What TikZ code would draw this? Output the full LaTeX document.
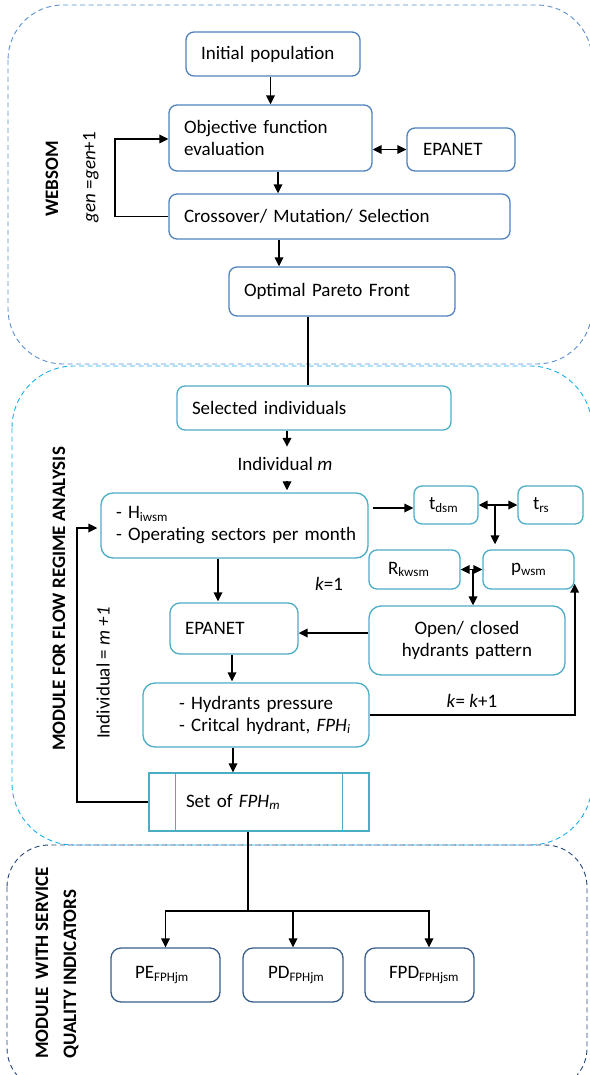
\documentclass[tikz,border=0pt]{standalone}
\usepackage{fontspec}
\setmainfont{Carlito}
\usetikzlibrary{arrows.meta}
\definecolor{cA}{RGB}{79,129,189}
\definecolor{cB}{RGB}{75,172,198}
\definecolor{cC}{RGB}{56,93,138}
\definecolor{fA}{RGB}{91,143,208}
\definecolor{fB}{RGB}{20,176,235}
\definecolor{fC}{RGB}{40,70,120}
\newcommand\sbs[1]{\raisebox{-2.5pt}{\fontsize{13}{13}\selectfont #1}}
\newcommand\pd[1]{\hspace*{#1pt}}
\begin{document}
\begin{tikzpicture}[x=1pt,y=-1pt,
  every node/.style={font=\fontsize{19}{22}\selectfont},
  bx/.style={draw, line width=1.3pt, rounded corners=8pt, inner xsep=0pt, inner ysep=0pt, align=left},
  bxc/.style={bx, align=center},
  frm/.style={dashed, dash pattern=on 5pt off 3.5pt, line width=0.9pt},
  arr/.style={line width=1.7pt, -{Triangle[length=9pt,width=8.5pt]}},
  darr/.style={line width=1.7pt, {Triangle[length=9pt,width=8.5pt]}-{Triangle[length=9pt,width=8.5pt]}},
  ln/.style={line width=1.7pt},
  bold/.style={font=\bfseries\fontsize{19}{22}\selectfont}
]
\useasboundingbox (0,0) rectangle (589,1075);
% frames
\draw[frm, fA, rounded corners=55pt] (8,5) rectangle (592,364);
\draw[frm, fB, rounded corners=62pt] (12,366) rectangle (592,845);
\draw[frm, fC, rounded corners=42pt] (7,845) rectangle (587,1090);

% ---- WEBSOM ----
\node[bx, cA, text=black, text width=174pt, minimum height=44pt] (init) at (273,54) {\pd{15}Initial population};
\node[bx, cA, text=black, text width=203pt, minimum height=66pt] (obj) at (270.5,138) {\pd{15}Objective function\\\pd{15}evaluation};
\node[bx, cA, text=black, text width=108pt, minimum height=43pt] (epa1) at (461,149.5) {\pd{16}EPANET};
\node[bx, cA, text=black, text width=341pt, minimum height=45pt] (cross) at (339.5,216.5) {\pd{15}Crossover/ Mutation/ Selection};
\node[bx, cA, text=black, text width=226pt, minimum height=49pt] (opt) at (342,291.5) {\pd{15}Optimal Pareto Front};

\node[rotate=90, bold] (lweb) at (52,179) {WEBSOM};
\node[rotate=90] (lgen) at (91,177) {\textit{gen} =\textit{gen}+1};

\coordinate (xa) at (270.5,0);
\coordinate (xb) at (278,0);
\coordinate (xc) at (279,0);
\coordinate (xd) at (308,0);
\coordinate (lp1) at (115,139);
\draw[arr] (init.south -| xa) -- (obj.north -| xa);
\draw[arr] (obj.south -| xb) -- (cross.north -| xb);
\draw[arr] (cross.south -| xc) -- (opt.north -| xc);
\draw[darr] (obj.east |- epa1.west) -- (epa1.west);
\draw[arr] (cross.west) -| (lp1) -- (obj.west |- lp1);

% ---- FLOW REGIME ----
\node[bx, cB, text=black, text width=274pt, minimum height=44pt] (sel) at (314,408) {\pd{15}Selected individuals};
\node[inner sep=0pt, minimum height=34pt] (indiv) at (285,464) {Individual \textit{m}};
\node[bx, cB, text=black, rounded corners=12pt, text width=267pt, minimum height=65pt] (H) at (234.5,525.5) {\pd{15}- H\sbs{iwsm}\\\pd{15}- Operating sectors per month};
\node[bx, cB, text=black, text width=64pt, minimum height=38pt] (tdsm) at (446,505) {\pd{15}t\sbs{dsm}};
\node[bx, cB, text=black, text width=65pt, minimum height=38pt] (trs) at (550.5,505) {\pd{15}t\sbs{rs}};
\node[bx, cB, text=black, text width=91pt, minimum height=39pt] (rk) at (414.5,569.5) {\pd{19}R\sbs{kwsm}};
\node[bxc, cB, text=black, text width=91pt, minimum height=39pt] (pw) at (528.5,569.5) {p\sbs{wsm}};
\node[bx, cB, text=black, rounded corners=10pt, text width=128pt, minimum height=51pt] (epa2) at (234,628.5) {\pd{15}EPANET};
\node[bxc, cB, text=black, rounded corners=12pt, text width=196pt, minimum height=69pt] (open) at (467,640.5) {Open/ closed\\hydrants pattern};
\node[bx, cB, text=black, rounded corners=12pt, text width=226pt, minimum height=64pt] (hyd) at (256,715) {\pd{36}- Hydrants pressure\\\pd{36}- Critcal hydrant, \textit{FPH\sbs{i}}};
\node[draw, cB, text=black, line width=1.1pt, inner sep=0pt, align=left, text width=220pt, minimum height=58pt] (set) at (259,802) {\pd{37}Set of \textit{FPH\sbs{m}}};
\draw[cB, line width=1.1pt] ([xshift=27pt]set.north west) -- ([xshift=27pt]set.south west);
\draw[cB, line width=1.1pt] ([xshift=-27pt]set.north east) -- ([xshift=-27pt]set.south east);

\node[rotate=90, bold] (lflow) at (59,599) {MODULE FOR FLOW REGIME ANALYSIS};
\node[rotate=90] (lind) at (103,673) {Individual = \textit{m +1}};
\node (lk1) at (329,584) {\textit{k}=1};
\node (lk2) at (472,701) {\textit{k}= \textit{k}+1};

\coordinate (xe) at (287,0);
\coordinate (xf) at (218,0);
\coordinate (xg) at (232,0);
\coordinate (xh) at (233,0);
\coordinate (hy) at (0,508);
\coordinate (dm) at (495,505);
\coordinate (dr) at (473,569.5);
\coordinate (oy) at (0,633);
\coordinate (lp2) at (77,528);
\draw[ln] (opt.south -| xd) -- (sel.north -| xd);
\draw[arr] (sel.south -| xe) -- (indiv.north -| xe);
\draw[arr] (indiv.south -| xe) -- ([yshift=2pt]H.north -| xe);
\draw[arr] ([xshift=4pt]H.east |- hy) -- (tdsm.west |- hy);
\draw[darr] (tdsm.east) -- (trs.west);
\draw[arr] (dm) -- ([yshift=5pt]pw.north -| dm);
\draw[darr] (rk.east) -- (pw.west);
\draw[arr] (dr) -- (open.north -| dr);
\draw[arr] (H.south -| xf) -- ([yshift=1pt]epa2.north -| xf);
\draw[arr] (open.west |- oy) -- (epa2.east |- oy);
\draw[arr] (epa2.south -| xg) -- ([yshift=1pt]hyd.north -| xg);
\draw[arr] (hyd.east) -| ([yshift=6pt]pw.south east);
\draw[arr] (hyd.south -| xh) -- (set.north -| xh);
\draw[arr] (set.west) -| (lp2) -- ([xshift=-3pt]H.west |- lp2);

% ---- SERVICE QUALITY ----
\node[bx, cC, text=black, rounded corners=10pt, text width=109pt, minimum height=54pt] (pe) at (165.5,975) {\pd{24}PE\sbs{FPHjm}};
\node[bx, cC, text=black, rounded corners=10pt, text width=100pt, minimum height=54pt] (pdn) at (293,975) {\pd{25}PD\sbs{FPHjm}};
\node[bx, cC, text=black, rounded corners=10pt, text width=109pt, minimum height=54pt] (fpd) at (419.5,975) {\pd{24}FPD\sbs{FPHjsm}};
\node[rotate=90, anchor=west, inner sep=0pt, align=left, font=\bfseries\fontsize{19}{28}\selectfont] (lsq) at (57,1059) {MODULE\ \ WITH SERVICE\\QUALITY INDICATORS};

\coordinate (bx) at (248,911);
\draw[ln] (set.south -| bx) -- (bx);
\draw[arr] (bx) -| (pe.north);
\draw[arr] (bx) -| (pdn.north);
\draw[arr] (bx) -| ([xshift=9.5pt]fpd.north);
\end{tikzpicture}
\end{document}
